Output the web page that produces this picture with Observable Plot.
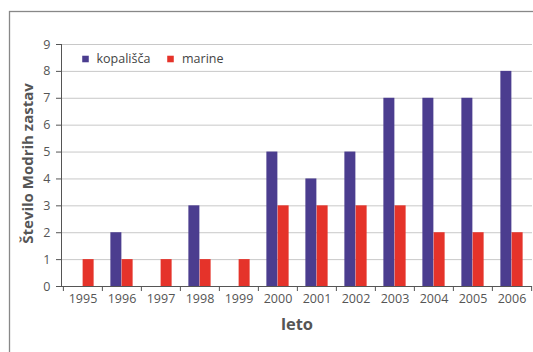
<!DOCTYPE html>
<html><head><meta charset="utf-8">
<script src="https://cdn.jsdelivr.net/npm/d3@7"></script>
<script src="https://cdn.jsdelivr.net/npm/@observablehq/plot@0.6"></script>
<style>body{margin:0;background:#fff}</style>
</head><body><div id="chart"></div>
<script>
const years = ["1995","1996","1997","1998","1999","2000","2001","2002","2003","2004","2005","2006"];
const kopalisca = [0,2,0,3,0,5,4,5,7,7,7,8];
const marine = [1,1,1,1,1,3,3,3,3,2,2,2];
const seriesNames = ["kopališča","marine"];
const colors = ["#4b3d8f","#e5332a"];
const yTicks = [0,1,2,3,4,5,6,7,8,9];
const yTitle = "Število Modrih zastav";
const xTitle = "leto";

const W = 533, H = 352, ml = 61, mr = 1, mt = 44, mb = 66;
const bw = (W - ml - mr) / years.length;
const barW = 11.25;
const data = years.map((y, i) => ({year: y, k: kopalisca[i], m: marine[i]}));

const svg = Plot.plot({
  width: W, height: H,
  marginLeft: ml, marginRight: mr, marginTop: mt, marginBottom: mb,
  style: {fontFamily: "'Open Sans', sans-serif", fontSize: "12.5px", color: "#555", background: "#fff"},
  x: {domain: years, padding: 0, label: null},
  y: {domain: [0, 9], label: null},
  marks: [
    Plot.gridY(yTicks, {stroke: "#c8c8c8", strokeOpacity: 1}),
    Plot.barY(data, {x: "year", y: "k", fill: colors[0], insetLeft: bw/2 - barW, insetRight: bw/2}),
    Plot.barY(data, {x: "year", y: "m", fill: colors[1], insetLeft: bw/2, insetRight: bw/2 - barW}),
    Plot.frame({anchor: "left", stroke: "#555"}),
    Plot.ruleY([0], {stroke: "#555", strokeWidth: 1.2}),
    Plot.axisY({ticks: yTicks, tickSize: 5, tickPadding: 6, stroke: "#555", fill: "#555", label: null}),
    Plot.axisX({tickSize: 5, text: null, dx: -bw/2, stroke: "#555", label: null}),
    Plot.axisX({ticks: [years[years.length-1]], tickSize: 5, text: null, dx: bw/2, stroke: "#555", label: null}),
    Plot.axisX({tickSize: 0, tickPadding: 8, fill: "#555", label: null}),
    Plot.text([yTitle], {frameAnchor: "left", dx: -33, dy: -2, rotate: -90, textAnchor: "middle", lineAnchor: "middle", fontSize: 15, fontWeight: "bold", fill: "#555", text: d => d}),
    Plot.text([xTitle], {frameAnchor: "bottom", dy: 38, lineAnchor: "middle", fontSize: 16.5, fontWeight: "bold", fill: "#555", text: d => d}),
    Plot.dot([seriesNames[0]], {frameAnchor: "top-left", dx: 24, dy: 14.5, symbol: "square", r: 3.7, fill: colors[0]}),
    Plot.text([seriesNames[0]], {frameAnchor: "top-left", dx: 35, dy: 14.5, textAnchor: "start", lineAnchor: "middle", fill: "#444", text: d => d}),
    Plot.dot([seriesNames[1]], {frameAnchor: "top-left", dx: 109, dy: 14.5, symbol: "square", r: 3.7, fill: colors[1]}),
    Plot.text([seriesNames[1]], {frameAnchor: "top-left", dx: 120.5, dy: 14.5, textAnchor: "start", lineAnchor: "middle", fill: "#444", text: d => d})
  ]
});
d3.select(svg).insert("rect", ":first-child")
  .attr("x", 9.5).attr("y", 11.5).attr("width", 600).attr("height", 400)
  .attr("fill", "none").attr("stroke", "#888").attr("stroke-width", 1.3);
document.getElementById("chart").append(svg);
</script>
</body></html>
